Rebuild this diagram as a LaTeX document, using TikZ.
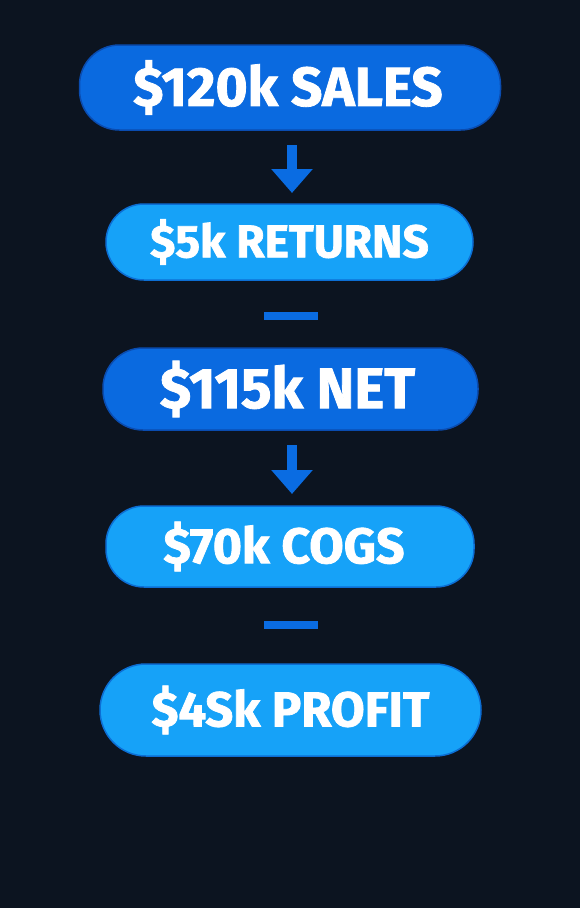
\documentclass[tikz,border=0pt]{standalone}
\usepackage{fontspec}
\setmainfont[BoldFeatures={FakeBold=1.5}]{Fira Sans}
\usetikzlibrary{arrows.meta}
\definecolor{bgc}{HTML}{0C1420}
\definecolor{darkfill}{HTML}{0A6AE0}
\definecolor{darkedge}{HTML}{0A4CB0}
\definecolor{lightfill}{HTML}{16A2F8}
\definecolor{lightedge}{HTML}{0C6ED4}
\definecolor{arrowc}{HTML}{0A6CE2}
\tikzset{
  pill/.style={rounded corners=#1, line width=1.5pt, text=white, font=\bfseries, inner sep=0pt},
  darkpill/.style={pill=40pt, fill=darkfill, draw=darkedge},
  lightpill/.style={pill=38pt, fill=lightfill, draw=lightedge},
  flowarrow/.style={draw=arrowc, line width=10pt, -{Triangle[width=40pt,length=24pt]}, shorten >=0pt},
  minusbar/.style={fill=arrowc, minimum width=54pt, minimum height=8pt, inner sep=0pt}
}
\begin{document}
\begin{tikzpicture}[x=1pt,y=-1pt]
\fill[bgc] (0,0) rectangle (580,908);
\useasboundingbox (0,0) rectangle (580,908);
\node[darkpill, minimum width=421pt, minimum height=85pt] (b1) at (290,87.5) {\fontsize{55}{55}\selectfont \$120k SALES\hspace*{4pt}};
\node[lightpill, minimum width=367pt, minimum height=76pt] (b2) at (289.5,242) {\fontsize{46}{46}\selectfont \$5k RETURNS};
\node[minusbar] (m1) at (291,316) {};
\node[darkpill, minimum width=375pt, minimum height=82pt] (b3) at (290.5,389) {\fontsize{57}{57}\selectfont \$115k NET\hspace*{6pt}};
\node[lightpill, minimum width=368pt, minimum height=81pt] (b4) at (290,546.5) {\fontsize{50}{50}\selectfont \$70k COGS\hspace*{12pt}};
\node[minusbar] (m2) at (291,625) {};
\node[lightpill, pill=46pt, minimum width=381pt, minimum height=92pt] (b5) at (290.5,710) {\fontsize{49}{49}\selectfont \$4Sk PROFIT};
\coordinate (a1s) at (292,145);
\coordinate (a1e) at (292,193);
\coordinate (a2s) at (292,445);
\coordinate (a2e) at (292,494);
\draw[flowarrow] (a1s) -- (a1e);
\draw[flowarrow] (a2s) -- (a2e);
\end{tikzpicture}
\end{document}
